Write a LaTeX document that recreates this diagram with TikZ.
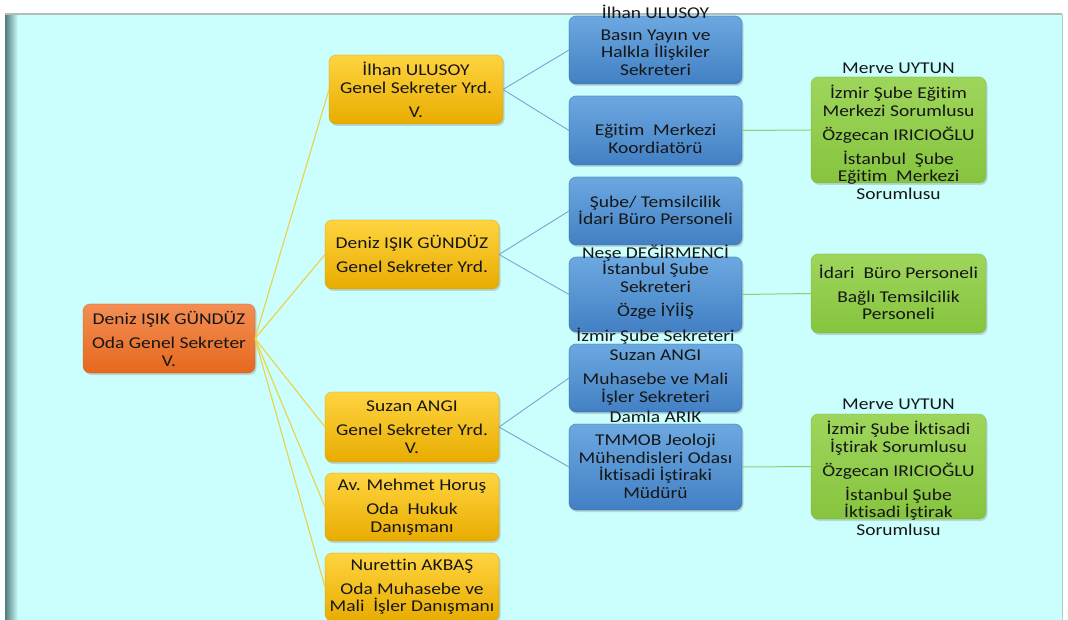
\documentclass[tikz,border=0pt]{standalone}
\usepackage{fontspec}
\setmainfont{Carlito}[FakeStretch=1.18, Ligatures=CommonOff]
\usetikzlibrary{shadows}

\definecolor{bgcyan}{RGB}{202,255,254}
\definecolor{stripdark}{RGB}{84,122,122}
\definecolor{ytop}{RGB}{255,212,64}
\definecolor{ybot}{RGB}{232,172,0}
\definecolor{otop}{RGB}{243,142,84}
\definecolor{obot}{RGB}{230,104,30}
\definecolor{btop}{RGB}{108,168,224}
\definecolor{bbot}{RGB}{66,128,196}
\definecolor{gtop}{RGB}{158,214,92}
\definecolor{gbot}{RGB}{134,196,62}
\definecolor{ylink}{RGB}{238,208,70}
\definecolor{blink}{RGB}{120,165,205}
\definecolor{glink}{RGB}{140,205,110}
\definecolor{txt}{RGB}{22,22,22}
\definecolor{frame}{RGB}{178,188,188}

\tikzset{
  box/.style={rounded corners=7pt, inner sep=0pt, outer sep=0pt,
    drop shadow={opacity=0.3, shadow xshift=1.5pt, shadow yshift=-2pt}},
  ybox/.style={box, top color=ytop, bottom color=ybot, draw=ybot!85!black, draw opacity=0.35, line width=0.8pt, minimum width=174pt},
  obox/.style={box, top color=otop, bottom color=obot, draw=obot!85!black, draw opacity=0.35, line width=0.8pt, minimum width=172pt},
  bbox/.style={box, top color=btop, bottom color=bbot, draw=bbot!80!black, draw opacity=0.45, line width=0.8pt, minimum width=173pt},
  gbox/.style={box, top color=gtop, bottom color=gbot, draw=gbot!85!black, draw opacity=0.35, line width=0.8pt, minimum width=175pt},
  lbl/.style={align=center, text=txt, inner sep=0pt, font=\fontsize{16.5}{17.5}\selectfont},
  ylinkst/.style={draw=ylink, line width=1.1pt},
  blinkst/.style={draw=blink, line width=0.9pt},
  glinkst/.style={draw=glink, line width=1pt},
}

\begin{document}
\begin{tikzpicture}[x=1pt, y=-1pt]
\useasboundingbox (0,0) rectangle (1068,620);
% background panel
\fill[white] (0,0) rectangle (1068,620);
\fill[bgcyan] (5,14) rectangle (1062,620);
\shade[left color=stripdark, right color=bgcyan] (5,14) rectangle (18,620);
\draw[frame, line width=1.6pt] (5,14) -- (1062,14);
\draw[frame!80!white, line width=0.8pt] (1062,14) -- (1062,620);

% boxes
\node[obox, minimum height=69pt] (root) at (169,338.5) {};
\node[ybox, minimum height=69pt] (y1) at (416,89.5) {};
\node[ybox, minimum height=69pt] (y2) at (412,254.5) {};
\node[ybox, minimum height=70pt] (y3) at (412,427) {};
\node[ybox, minimum height=68pt] (y4) at (412,507) {};
\node[ybox, minimum height=68pt] (y5) at (412,587) {};

\node[bbox, minimum height=68pt] (b1) at (655.5,50) {};
\node[bbox, minimum height=69pt] (b2) at (655.5,130.5) {};
\node[bbox, minimum height=68pt] (b3) at (655.5,211) {};
\node[bbox, minimum height=75pt] (b4) at (655.5,294.5) {};
\node[bbox, minimum height=68pt] (b5) at (655.5,378) {};
\node[bbox, minimum height=86pt] (b6) at (655.5,467) {};

\node[gbox, minimum height=106pt] (g1) at (898.5,130) {};
\node[gbox, minimum height=79pt] (g2) at (898.5,293.5) {};
\node[gbox, minimum height=105pt] (g3) at (898.5,466.5) {};

% connectors
\foreach \t in {y1,y2,y3,y4,y5} \draw[ylinkst] (root.east) -- (\t.west);
\draw[blinkst] (y1.east) -- (b1.west);
\draw[blinkst] (y1.east) -- (b2.west);
\draw[blinkst] (y2.east) -- (b3.west);
\draw[blinkst] (y2.east) -- (b4.west);
\draw[blinkst] (y3.east) -- (b5.west);
\draw[blinkst] (y3.east) -- (b6.west);
\draw[glinkst] (b2.east) -- (g1.west);
\draw[glinkst] (b4.east) -- (g2.west);
\draw[glinkst] (b6.east) -- (g3.west);

% texts
\node[lbl] (troot) at (169,339) {Deniz IŞIK GÜNDÜZ\\[6.5pt]Oda Genel Sekreter\\V.};
\node[lbl] (ty1) at (416,90) {İlhan ULUSOY\\Genel Sekreter Yrd.\\[6.5pt]V.};
\node[lbl] (ty2) at (412,254) {Deniz IŞIK GÜNDÜZ\\[6.5pt]Genel Sekreter Yrd.};
\node[lbl] (ty3) at (412,427) {Suzan ANGI\\[6.5pt]Genel Sekreter Yrd.\\V.};
\node[lbl] (ty4) at (412,507) {Av. Mehmet Horuş\\[6.5pt]Oda\ \ Hukuk\\Danışmanı};
\node[lbl] (ty5) at (412,586.5) {Nurettin AKBAŞ\\[6.5pt]Oda Muhasebe ve\\Mali\ \ İşler Danışmanı};

\node[lbl] (lb1) at (655.5,12) {İlhan ULUSOY};
\node[lbl] (tb1) at (655.5,52.5) {Basın Yayın ve\\Halkla İlişkiler\\Sekreteri};
\node[lbl] (tb2) at (655.5,139) {Eğitim\ \ Merkezi\\Koordiatörü};
\node[lbl] (tb3) at (655.5,210.5) {Şube/ Temsilcilik\\İdari Büro Personeli};
\node[lbl] (lb4) at (655.5,253) {Neşe DEĞİRMENCİ};
\node[lbl] (tb4) at (655.5,290) {İstanbul Şube\\Sekreteri\\[6.5pt]Özge İYİİŞ};
\node[lbl] (lb4b) at (655.5,336) {İzmir Şube Sekreteri};
\node[lbl] (tb5) at (655.5,377.5) {Suzan ANGI\\[6.5pt]Muhasebe ve Mali\\İşler Sekreteri};
\node[lbl] (lb5) at (655.5,417) {Damla ARIK};
\node[lbl] (tb6) at (655.5,466.5) {TMMOB Jeoloji\\Mühendisleri Odası\\İktisadi İştiraki\\Müdürü};

\node[lbl] (lg1) at (898.5,68) {Merve UYTUN};
\node[lbl] (tg1) at (898.5,142.5) {İzmir Şube Eğitim\\Merkezi Sorumlusu\\[6.5pt]Özgecan IRICIOĞLU\\[6.5pt]İstanbul\ \ Şube\\Eğitim\ \ Merkezi\\Sorumlusu};
\node[lbl] (tg2) at (898.5,292.5) {İdari\ \ Büro Personeli\\[6.5pt]Bağlı Temsilcilik\\Personeli};
\node[lbl] (lg3) at (898.5,404) {Merve UYTUN};
\node[lbl] (tg3) at (898.5,478.5) {İzmir Şube İktisadi\\İştirak Sorumlusu\\[6.5pt]Özgecan IRICIOĞLU\\[6.5pt]İstanbul Şube\\İktisadi İştirak\\Sorumlusu};
\end{tikzpicture}
\end{document}
